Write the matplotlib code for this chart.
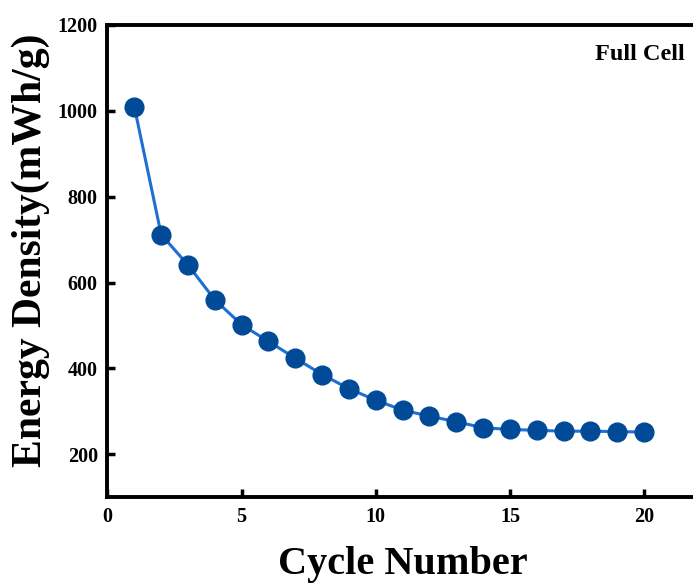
import matplotlib
matplotlib.use("Agg")
import matplotlib.pyplot as plt

cycles = list(range(1, 21))
energy = [1010, 712, 641, 560, 502, 463, 424, 386, 353, 326,
          303, 289, 276, 262, 258, 256, 254, 254, 253, 252]
xticks = [0, 5, 10, 15, 20]
yticks = [200, 400, 600, 800, 1000, 1200]

plt.rcParams['font.family'] = ['Liberation Serif', 'DejaVu Serif']
plt.rcParams['font.weight'] = 'bold'

fig = plt.figure(figsize=(6.93, 5.85), dpi=100)
ax = fig.add_axes([0.1551, 0.1499, 0.8518, 0.8074])

ax.plot(cycles, energy, color='#1e6fd2', linewidth=2.2, marker='o',
        markersize=13.5, markerfacecolor='#004a97', markeredgecolor='#004a97', zorder=3)

ax.set_xlim(0, 22)
ax.set_ylim(100, 1200)
ax.set_xticks(xticks)
ax.set_yticks(yticks)
ax.tick_params(direction='in', length=6, width=2.5, labelsize=14.5, pad=7)
for lab in ax.get_xticklabels() + ax.get_yticklabels():
    lab.set_fontweight('bold')
for s in ax.spines.values():
    s.set_linewidth(2.8)
ax.spines['right'].set_visible(False)

ax.set_xlabel('Cycle Number', fontsize=29, fontweight='bold', labelpad=14)
ax.set_ylabel('Energy Density(mWh/g)', fontsize=30, fontweight='bold')
ax.yaxis.set_label_coords(-0.097, 0.524)
fig.text(0.988, 0.897, 'Full Cell', fontsize=17.5, fontweight='bold', ha='right', va='baseline')

fig.savefig('out.png', dpi=100)
